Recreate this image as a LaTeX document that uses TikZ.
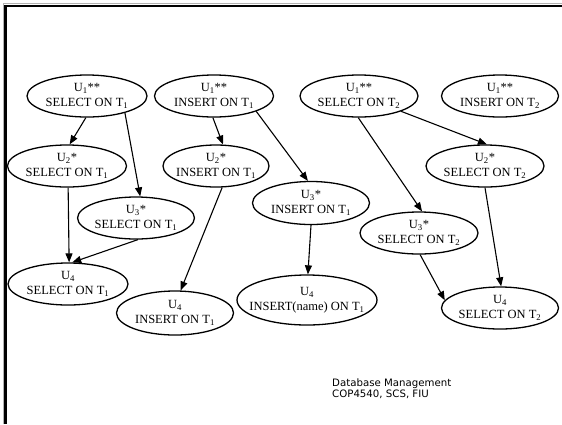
\documentclass[tikz,border=0pt]{standalone}
\usepackage{fontspec}
\setmainfont{Liberation Serif}
\newfontfamily\footfont{DejaVu Sans}
\usetikzlibrary{shapes.geometric,arrows.meta}
\tikzset{
  op/.style={ellipse, draw=black, line width=1.3pt, inner sep=0pt,
    minimum width=#1, minimum height=42pt, align=center,
    font=\fontsize{12.5}{15}\selectfont},
  op/.default=119pt,
  dep/.style={line width=1.1pt, -{Triangle[length=9pt,width=7pt]}}
}
\begin{document}
\begin{tikzpicture}[x=1pt,y=-1pt]
\useasboundingbox (0,0) rectangle (562,424);
% frame
\draw[gray!60, line width=0.8pt] (3.6,424) -- (3.6,3.8) -- (562,3.8);
\draw[black, line width=2.6pt] (5.6,424) -- (5.6,6) -- (562,6);
% nodes
\node[op=120pt] (e1) at (87,96) {U\textsubscript{1}**\\SELECT ON T\textsubscript{1}};
\node[op=119pt] (e2) at (214,96) {U\textsubscript{1}**\\INSERT ON T\textsubscript{1}};
\node[op=118pt] (e3) at (359,96) {U\textsubscript{1}**\\SELECT ON T\textsubscript{2}};
\node[op=117pt] (e4) at (500,96) {U\textsubscript{1}**\\INSERT ON T\textsubscript{2}};
\node[op=119pt] (e5) at (67,166) {U\textsubscript{2}*\\SELECT ON T\textsubscript{1}};
\node[op=114pt] (e6) at (136,218) {U\textsubscript{3}*\\SELECT ON T\textsubscript{1}};
\node[op=120pt] (e7) at (68,284) {U\textsubscript{4}\\SELECT ON T\textsubscript{1}};
\node[op=106pt] (e8) at (216,166) {U\textsubscript{2}*\\\makebox[72pt][c]{INSERT ON T\textsubscript{1}}};
\node[op=117pt, minimum height=44pt] (e9) at (175,313) {U\textsubscript{4}\\INSERT ON T\textsubscript{1}};
\node[op=117pt, minimum height=43pt] (e10) at (311,203) {U\textsubscript{3}*\\INSERT ON T\textsubscript{1}};
\node[op=140pt, minimum height=50pt] (e11) at (307,300) {U\textsubscript{4}\\\makebox[96pt][c]{INSERT(name) ON T\textsubscript{1}}};
\node[op=118pt] (e12) at (485,166) {U\textsubscript{2}*\\SELECT ON T\textsubscript{2}};
\node[op=118pt] (e13) at (419,233) {U\textsubscript{3}*\\SELECT ON T\textsubscript{2}};
\node[op=117pt] (e14) at (500,308) {U\textsubscript{4}\\SELECT ON T\textsubscript{2}};
% connectors
\draw[dep] (e1.-93) -- (e5.83);
\draw[dep] (e1.-24) -- (e6.79);
\draw[dep] (e5.-87) -- (e7.87);
\draw[dep] (e6.-85) -- (e7.79);
\draw[dep] (e2.-93) -- (e8.72);
\draw[dep] (e2.-20) -- (e10.98);
\draw[dep] (e8.-74) -- (e9.76);
\draw[dep] (e10.-90) -- (e11.88);
\draw[dep] (e3.-20) -- (e12.85);
\draw[dep] (e3.-92) -- (e13.82);
\draw[dep] (e12.-90) -- (e14.87);
\draw[dep] (e13.-87) -- (e14.172);
% footer
\node[anchor=north west, inner sep=0pt, align=left,
      font=\footfont\fontsize{10.2}{10.8}\selectfont] (foot) at (332,378.5)
  {Database Management\\COP4540, SCS, FIU};
\end{tikzpicture}
\end{document}
